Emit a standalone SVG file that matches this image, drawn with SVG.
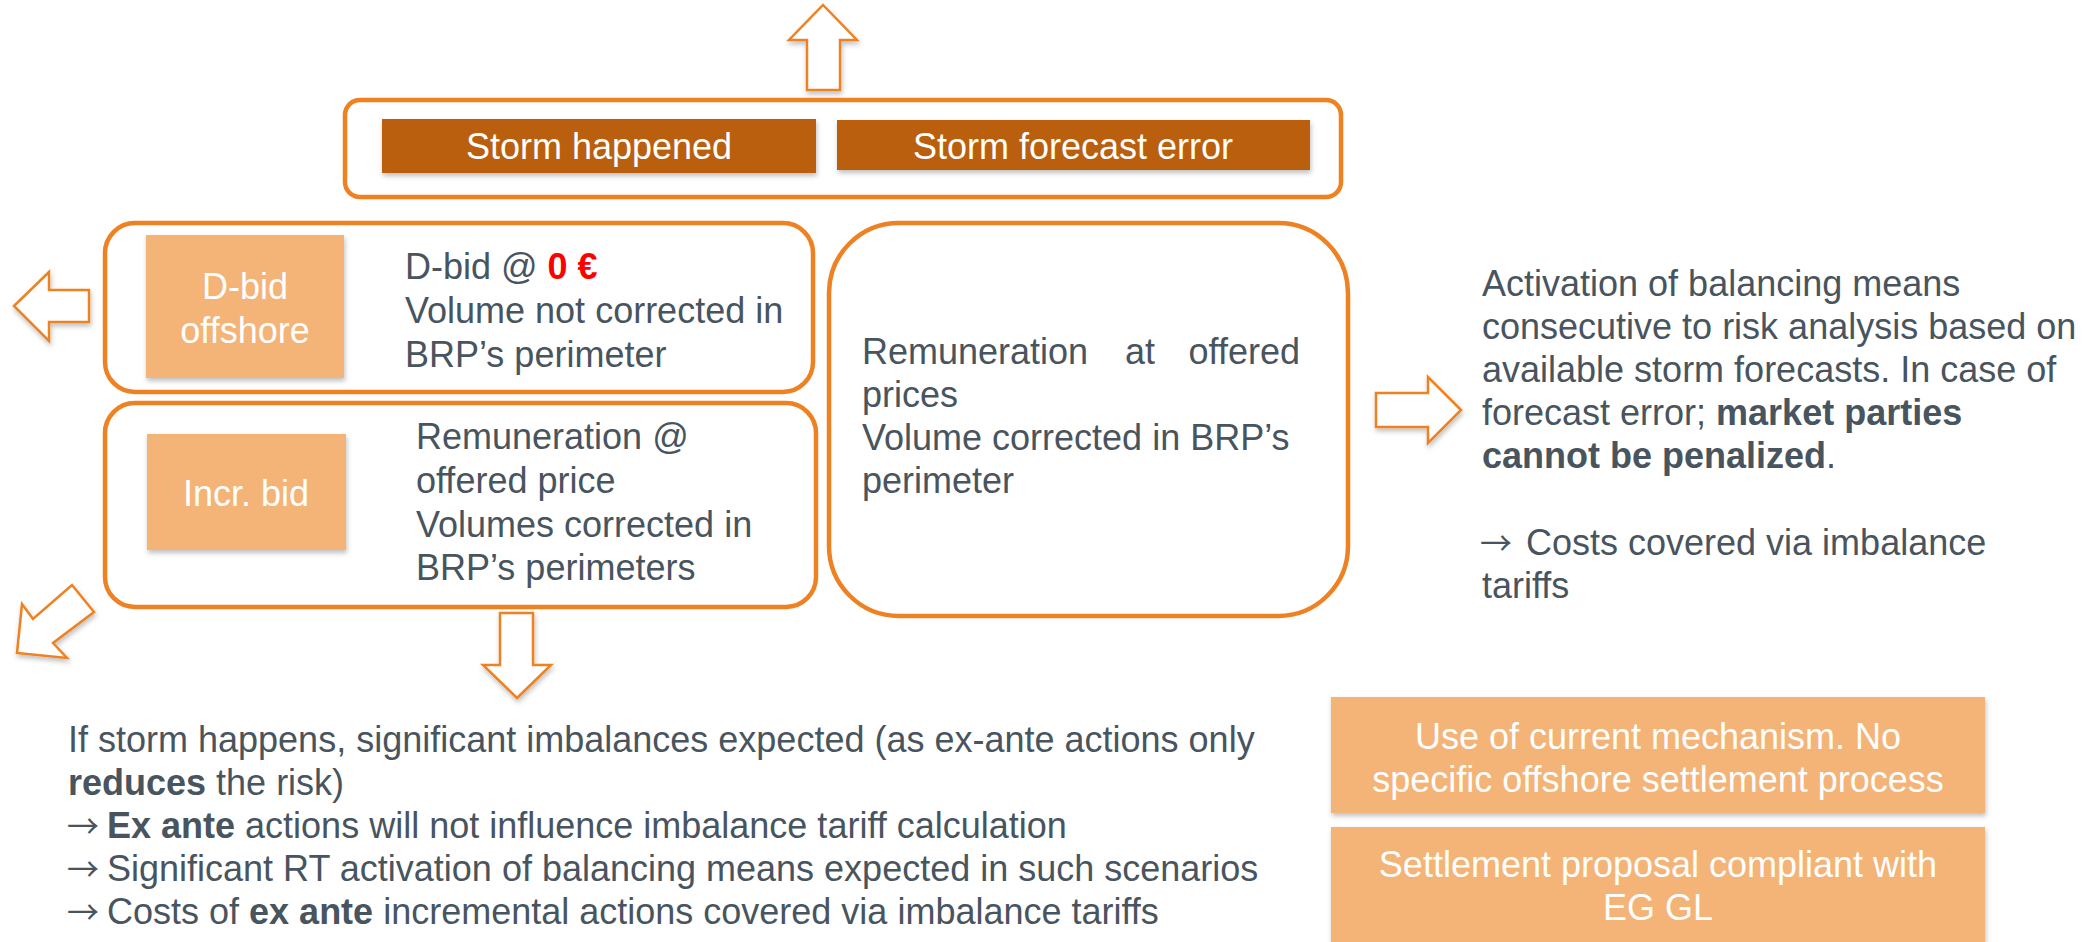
<svg xmlns="http://www.w3.org/2000/svg" width="2092" height="942" viewBox="0 0 2092 942">
<style>
text{font-family:"Liberation Sans",Arial,sans-serif;font-size:36px}
.g{fill:#48545E}
.w{fill:#FFFFFF}
.b{font-weight:bold}
.ar{font-family:"Noto Sans CJK SC",sans-serif;font-size:32px}
.frame{fill:#FFFFFF;stroke:#EE8222;stroke-width:4.5}
.dark{fill:#BA5E0C}
.light{fill:#F4B377}
.arrow{fill:#FFFFFF;stroke:#EE8222;stroke-width:2.5;stroke-linejoin:miter}
</style>
<defs>
<filter id="sh" x="-10%" y="-10%" width="130%" height="140%">
<feDropShadow dx="1" dy="3" stdDeviation="2.5" flood-color="#000000" flood-opacity="0.25"/>
</filter>
</defs>
<rect width="2092" height="942" fill="#FFFFFF"/>

<g id="connectors">
<polygon class="arrow" filter="url(#sh)" points="823,5 857,40 840,40 840,90 807,90 807,40 789,40"/>
<polygon class="arrow" filter="url(#sh)" points="14,306 49,272 49,290 89,290 89,322 49,322 49,341"/>
<polygon class="arrow" filter="url(#sh)" points="1461,410 1428,377 1428,393 1376,393 1376,427 1428,427 1428,443"/>
<polygon class="arrow" filter="url(#sh)" points="517,698 551,665 533,665 533,613 500,613 500,665 483,665"/>
<polygon class="arrow" filter="url(#sh)" points="17,653 22,604 33,619 72,585 94,612 53,643 67,658"/>
</g>

<g id="storm-frame">
<rect class="frame" x="345" y="100" width="996" height="97" rx="15"/>
</g>
<g id="storm-happened">
<rect class="dark" filter="url(#sh)" x="382" y="119" width="434" height="54"/>
<text class="w" x="599" y="159" text-anchor="middle">Storm happened</text>
</g>
<g id="storm-forecast-error">
<rect class="dark" filter="url(#sh)" x="837" y="120" width="473" height="50"/>
<text class="w" x="1073" y="159" text-anchor="middle">Storm forecast error</text>
</g>

<g id="dbid-row">
<rect class="frame" x="105" y="223" width="708" height="169" rx="30"/>
<rect class="light" filter="url(#sh)" x="146" y="235" width="198" height="143"/>
<text class="w" x="245" y="299" text-anchor="middle">D-bid</text>
<text class="w" x="245" y="343" text-anchor="middle">offshore</text>
<text class="g" x="405" y="279">D-bid @ <tspan class="b" fill="#FF0000">0 €</tspan></text>
<text class="g" x="405" y="323">Volume not corrected in</text>
<text class="g" x="405" y="367">BRP’s perimeter</text>
</g>

<g id="incr-row">
<rect class="frame" x="105" y="403" width="711" height="204" rx="30"/>
<rect class="light" filter="url(#sh)" x="147" y="434" width="199" height="116"/>
<text class="w" x="246" y="506" text-anchor="middle">Incr. bid</text>
<text class="g" x="416" y="449">Remuneration @</text>
<text class="g" x="416" y="493">offered price</text>
<text class="g" x="416" y="537">Volumes corrected in</text>
<text class="g" x="416" y="580">BRP’s perimeters</text>
</g>

<g id="remuneration-box">
<rect class="frame" x="829" y="223" width="519" height="393" rx="70"/>
<text class="g" x="862" y="364">Remuneration</text>
<text class="g" x="1125" y="364">at</text>
<text class="g" x="1300" y="364" text-anchor="end">offered</text>
<text class="g" x="862" y="407">prices</text>
<text class="g" x="862" y="450">Volume corrected in BRP’s</text>
<text class="g" x="862" y="493">perimeter</text>
</g>

<g id="activation-text">
<text class="g" x="1482" y="296">Activation of balancing means</text>
<text class="g" x="1482" y="339">consecutive to risk analysis based on</text>
<text class="g" x="1482" y="382">available storm forecasts. In case of</text>
<text class="g" x="1482" y="425">forecast error; <tspan class="b">market parties</tspan></text>
<text class="g" x="1482" y="468"><tspan class="b">cannot be penalized</tspan>.</text>
<text class="g" x="1480" y="555"><tspan class="ar">→</tspan><tspan x="1526">Costs covered via imbalance</tspan></text>
<text class="g" x="1482" y="598">tariffs</text>
</g>

<g id="storm-text">
<text class="g" x="68" y="752">If storm happens, significant imbalances expected (as ex-ante actions only</text>
<text class="g" x="68" y="795"><tspan class="b">reduces</tspan> the risk)</text>
<text class="g" x="67" y="838"><tspan class="ar">→</tspan><tspan x="107" class="b">Ex ante</tspan> actions will not influence imbalance tariff calculation</text>
<text class="g" x="67" y="881"><tspan class="ar">→</tspan><tspan x="107">Significant RT activation of balancing means expected in such scenarios</tspan></text>
<text class="g" x="67" y="924"><tspan class="ar">→</tspan><tspan x="107">Costs of </tspan><tspan class="b">ex ante</tspan> incremental actions covered via imbalance tariffs</text>
</g>

<g id="current-mechanism">
<rect class="light" filter="url(#sh)" x="1331" y="697" width="654" height="116"/>
<text class="w" x="1658" y="749" text-anchor="middle">Use of current mechanism. No</text>
<text class="w" x="1658" y="792" text-anchor="middle">specific offshore settlement process</text>
</g>
<g id="settlement-proposal">
<rect class="light" filter="url(#sh)" x="1331" y="827" width="654" height="130"/>
<text class="w" x="1658" y="877" text-anchor="middle">Settlement proposal compliant with</text>
<text class="w" x="1658" y="920" text-anchor="middle">EG GL</text>
</g>
</svg>
